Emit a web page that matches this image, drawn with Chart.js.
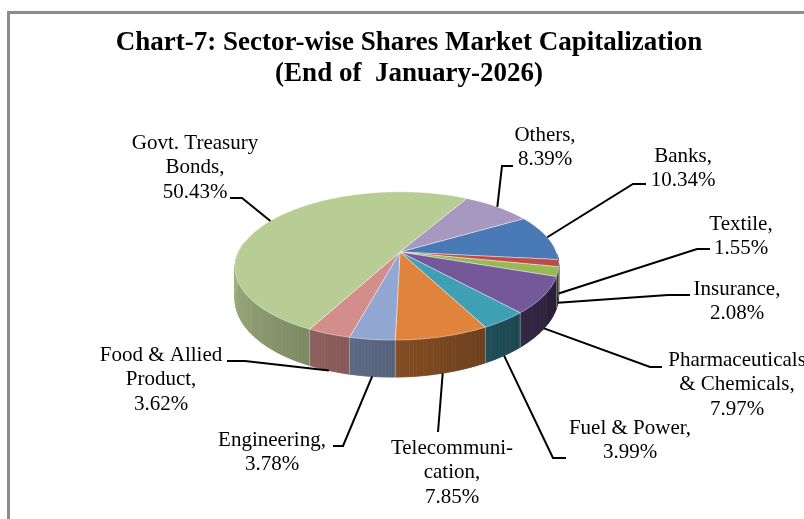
<!DOCTYPE html>
<html>
<head>
<meta charset="utf-8">
<title>Chart-7: Sector-wise Shares Market Capitalization</title>
<script src="https://cdn.jsdelivr.net/npm/chart.js@4.4.1/dist/chart.umd.min.js"></script>
<style>
  html, body { margin: 0; padding: 0; background: #fff; }
  #wrap { width: 804px; height: 519px; }
</style>
</head>
<body>
<div id="wrap"><canvas id="chart" width="804" height="519"></canvas></div>
<script>
const titleLines = ['Chart-7: Sector-wise Shares Market Capitalization', '(End of  January-2026)'];
const categories = ['Banks', 'Textile', 'Insurance', 'Pharmaceuticals\n& Chemicals', 'Fuel & Power',
    'Telecommuni-\ncation', 'Engineering', 'Food & Allied\nProduct', 'Govt. Treasury\nBonds', 'Others'];
const shares = [10.34, 1.55, 2.08, 7.97, 3.99, 7.85, 3.78, 3.62, 50.43, 8.39];
const sliceColors = ['#4a7ab5', '#be4b48', '#98b954', '#75589a', '#3fa0b5',
    '#e0833c', '#92a8d3', '#d38e8c', '#b8cd93', '#a698bf'];

// where each data label sits (centre x, first line y) and its leader line bend
const labelLayout = [
    { x: 683, y: 156, elbow: [633, 184], end: [646, 184] },
    { x: 741, y: 224, elbow: [697, 249], end: [710, 249] },
    { x: 737, y: 289, elbow: [668, 295], end: [690, 295] },
    { x: 737, y: 360, elbow: [650, 367], end: [662, 367] },
    { x: 630, y: 428, elbow: [553, 458], end: [566, 458] },
    { x: 452, y: 448, elbow: [438, 432], end: [438, 432] },
    { x: 272, y: 440, elbow: [343, 446], end: [333, 446] },
    { x: 161, y: 355, elbow: [245, 361], end: [227, 361] },
    { x: 195, y: 143, elbow: [242, 198], end: [230, 198] },
    { x: 545, y: 135, elbow: [502, 166], end: [513, 166] }
];

// fake 3d look: tilt, perspective, sideways lean, slight roll, wall height (fractions of radius)
const TILT = 0.451, PERSP = 0.189, SKEW = -0.101, ROLL = 0.038, DEPTH = 0.19;
const LINE_H = 24.5;

function project(arc, angle, r, h) {
    const R = arc.outerRadius;
    const u = Math.cos(angle) * r, v = Math.sin(angle) * r;
    const f = 1 / (1 - PERSP * v);
    return [arc.x + (u + SKEW * v) * R * f, arc.y + (v * TILT + ROLL * u + h * DEPTH) * R * f];
}

function shade(hex, k) {
    const n = parseInt(hex.slice(1), 16);
    const r = Math.round(((n >> 16) & 255) * k);
    const g = Math.round(((n >> 8) & 255) * k);
    const b = Math.round((n & 255) * k);
    return `rgb(${r},${g},${b})`;
}

const pie3d = {
    id: 'pie3d',
    beforeDatasetsDraw(chart) {
        const ctx = chart.ctx;
        const arcs = chart.getDatasetMeta(0).data;
        const step = Math.PI / 180;
        ctx.save();
        // side walls, front half only
        arcs.forEach(a => {
            const base = a.options.backgroundColor;
            for (let t = a.startAngle; t < a.endAngle; t += step) {
                const t2 = Math.min(t + step, a.endAngle);
                const mid = (t + t2) / 2;
                if (Math.sin(mid) <= -0.05) continue;
                const n = ((mid % (2 * Math.PI)) + 2 * Math.PI) % (2 * Math.PI);
                const ang = n > Math.PI * 1.5 ? 0 : Math.min(n, Math.PI);
                const col = shade(base, 0.3 + 0.6 * ang / Math.PI);
                const p1 = project(a, t, 1, 0), p2 = project(a, t2, 1, 0);
                const p3 = project(a, t2, 1, 1), p4 = project(a, t, 1, 1);
                ctx.beginPath();
                ctx.moveTo(p1[0], p1[1]);
                ctx.lineTo(p2[0], p2[1]);
                ctx.lineTo(p3[0], p3[1]);
                ctx.lineTo(p4[0], p4[1]);
                ctx.closePath();
                ctx.fillStyle = col;
                ctx.strokeStyle = col;
                ctx.lineWidth = 0.8;
                ctx.fill();
                ctx.stroke();
            }
        });
        // seams between walls
        ctx.strokeStyle = 'rgba(255,255,255,0.35)';
        ctx.lineWidth = 1;
        arcs.forEach(a => {
            if (Math.sin(a.startAngle) <= 0.05) return;
            const top = project(a, a.startAngle, 1, 0), bot = project(a, a.startAngle, 1, 1);
            ctx.beginPath();
            ctx.moveTo(top[0], top[1]);
            ctx.lineTo(bot[0], bot[1]);
            ctx.stroke();
        });
        // top faces
        arcs.forEach(a => {
            const c = project(a, 0, 0, 0);
            ctx.beginPath();
            ctx.moveTo(c[0], c[1]);
            for (let t = a.startAngle; ; t += step / 2) {
                const tt = Math.min(t, a.endAngle);
                const p = project(a, tt, 1, 0);
                ctx.lineTo(p[0], p[1]);
                if (tt >= a.endAngle) break;
            }
            ctx.closePath();
            ctx.fillStyle = a.options.backgroundColor;
            ctx.fill();
            ctx.strokeStyle = 'rgba(255,255,255,0.4)';
            ctx.lineWidth = 1;
            ctx.stroke();
        });
        ctx.restore();
        return false;
    }
};

const frameAndLabels = {
    id: 'frameAndLabels',
    afterDraw(chart) {
        const ctx = chart.ctx;
        const arcs = chart.getDatasetMeta(0).data;
        ctx.save();
        ctx.strokeStyle = '#8c8c8c';
        ctx.lineWidth = 3;
        ctx.strokeRect(8.5, 12.5, 900, 600);

        ctx.fillStyle = '#000';
        ctx.textAlign = 'center';
        ctx.textBaseline = 'middle';
        ctx.font = "bold 27px 'Liberation Serif', 'Times New Roman', serif";
        ctx.fillText(titleLines[0], 409, 43);
        ctx.fillText(titleLines[1], 409, 74);

        ctx.strokeStyle = '#000';
        ctx.lineWidth = 2;
        ctx.font = "21px 'Liberation Serif', 'Times New Roman', serif";
        arcs.forEach((a, i) => {
            const lay = labelLayout[i];
            const mid = (a.startAngle + a.endAngle) / 2;
            const front = Math.sin(mid) > 0;
            const p = project(a, mid, 1, front ? 1 : 0);
            ctx.beginPath();
            ctx.moveTo(p[0], p[1]);
            ctx.lineTo(lay.elbow[0], lay.elbow[1]);
            ctx.lineTo(lay.end[0], lay.end[1]);
            ctx.stroke();

            const lines = categories[i].split('\n');
            lines[lines.length - 1] += ',';
            lines.push(shares[i].toFixed(2) + '%');
            lines.forEach((s, k) => ctx.fillText(s, lay.x, lay.y + k * LINE_H));
        });
        ctx.restore();
    }
};

new Chart(document.getElementById('chart'), {
    type: 'pie',
    data: {
        labels: categories,
        datasets: [{ data: shares, backgroundColor: sliceColors, borderWidth: 0 }]
    },
    options: {
        responsive: false,
        devicePixelRatio: 1,
        animation: false,
        rotation: 54,
        layout: { padding: { left: 242, right: 246, top: 94, bottom: 109 } },
        plugins: {
            legend: { display: false },
            tooltip: { enabled: false },
            title: { display: false }
        }
    },
    plugins: [pie3d, frameAndLabels]
});
</script>
</body>
</html>
